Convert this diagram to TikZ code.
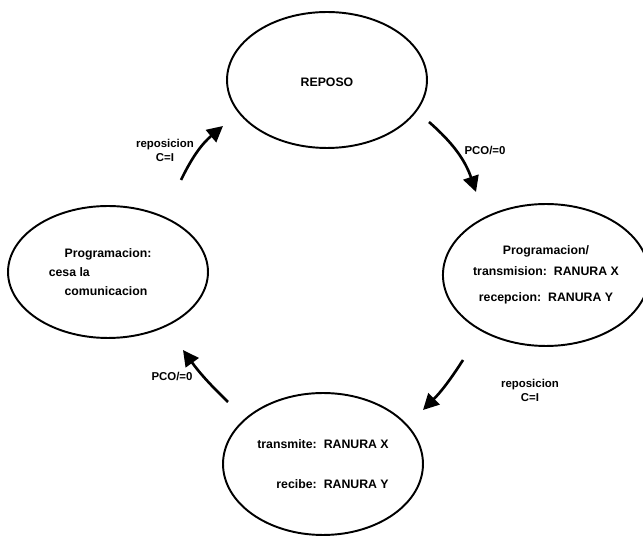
\documentclass[tikz,border=0pt]{standalone}
\usepackage{fontspec}
\setmainfont{Liberation Sans}
\usetikzlibrary{shapes.geometric,arrows.meta}

\begin{document}
\begin{tikzpicture}[x=0.02cm, y=-0.02cm,
		estado/.style={draw, ellipse, line width=1.1pt, inner sep=0pt,
			font=\fontsize{7}{11}\selectfont\bfseries},
		flecha/.style={-{Triangle[length=9pt,width=9pt]}, line width=1.5pt},
		etiq/.style={font=\fontsize{6.5}{8}\selectfont\bfseries, align=center}
	]
		\useasboundingbox (0,0) rectangle (643,536);
		\node[estado, minimum width=4cm, minimum height=2.72cm] (reposo) at (327,80) {\raisebox{-8pt}{REPOSO}};
		\node[estado, minimum width=4.1cm, minimum height=2.84cm, align=center] (prog) at (546,275)
			{Programacion/\\[1pt] transmision:\hspace{4pt}RANURA X\\[4pt] recepcion:\hspace{4pt}RANURA Y};
		\node[estado, minimum width=4cm, minimum height=2.84cm, align=right] (trans) at (323,464)
			{transmite:\hspace{4pt}RANURA X\\[12pt] recibe:\hspace{4pt}RANURA Y};
		\node[estado, minimum width=4cm, minimum height=2.64cm, align=left] (cesa) at (108,272)
			{Programacion:\\ \hspace*{-9pt}cesa la\\ comunicacion};
		\coordinate (a1) at (429,122);
		\coordinate (a2) at (476,192);
		\coordinate (b1) at (463,360);
		\coordinate (b2) at (423,410);
		\coordinate (c1) at (228,402);
		\coordinate (c2) at (183,350);
		\coordinate (d1) at (181,180);
		\coordinate (d2) at (223,126);
		\draw[flecha] (a1) to[bend left=15] (a2);
		\draw[flecha] (b1) to[bend left=6] (b2);
		\draw[flecha] (c1) to[bend left=5] (c2);
		\draw[flecha] (d1) to[bend left=12] (d2);
		\node[etiq] (la) at (485,150) {PCO/=0};
		\node[etiq] (lb) at (530,390) {reposicion\\C=I};
		\node[etiq] (lc) at (172,376) {PCO/=0};
		\node[etiq] (ld) at (165,150) {reposicion\\C=I};
	\end{tikzpicture}
\end{document}
